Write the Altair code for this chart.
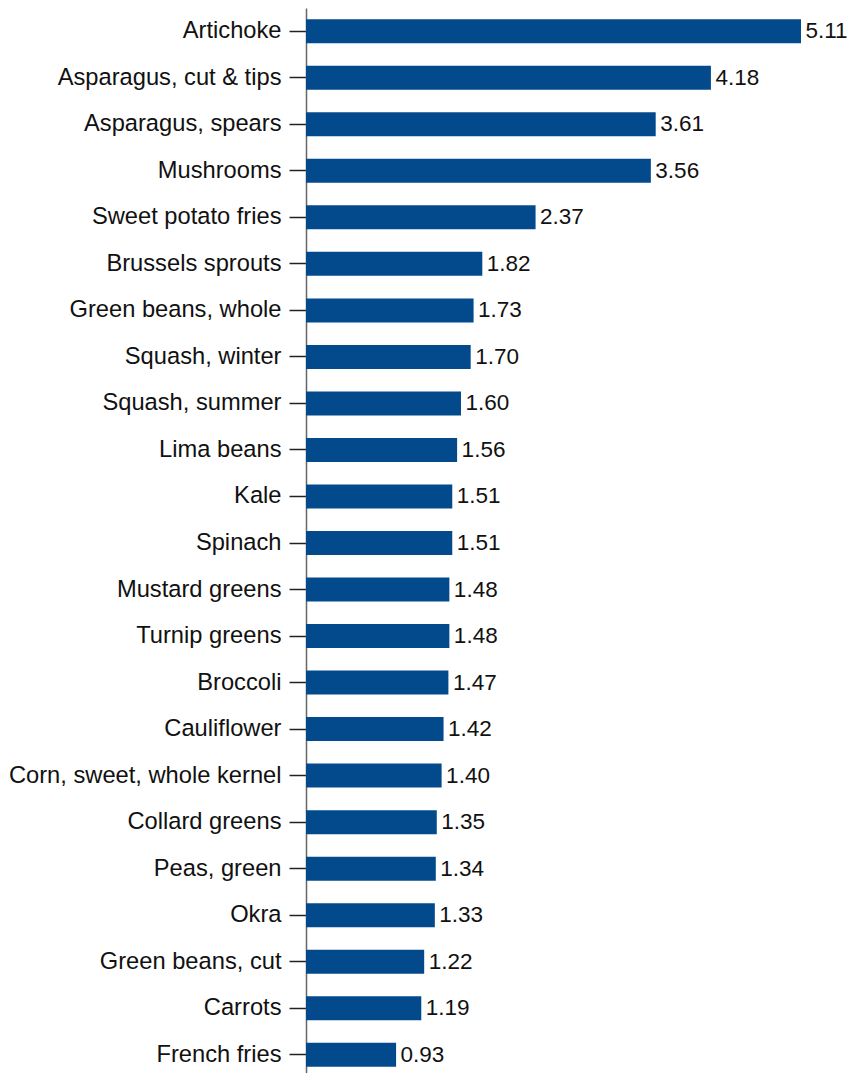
import altair as alt
import pandas as pd

categories = ["Artichoke", "Asparagus, cut & tips", "Asparagus, spears", "Mushrooms",
              "Sweet potato fries", "Brussels sprouts", "Green beans, whole",
              "Squash, winter", "Squash, summer", "Lima beans", "Kale", "Spinach",
              "Mustard greens", "Turnip greens", "Broccoli", "Cauliflower",
              "Corn, sweet, whole kernel", "Collard greens", "Peas, green", "Okra",
              "Green beans, cut", "Carrots", "French fries"]
values = [5.11, 4.18, 3.61, 3.56, 2.37, 1.82, 1.73, 1.70, 1.60, 1.56, 1.51, 1.51,
          1.48, 1.48, 1.47, 1.42, 1.40, 1.35, 1.34, 1.33, 1.22, 1.19, 0.93]

df = pd.DataFrame({"item": categories, "value": values})

FONT = "Liberation Sans"

y = alt.Y("item:N", sort=categories,
          scale=alt.Scale(paddingInner=0.484, paddingOuter=0.242),
          axis=alt.Axis(title=None, labelFont=FONT, labelFontSize=23.7,
                        labelColor="#111", tickSize=17, tickColor="#222",
                        tickWidth=1.5, labelPadding=8, domainColor="#666",
                        domainWidth=1.5, grid=False, labelLimit=400))
x = alt.X("value:Q", scale=alt.Scale(domain=[0, 5.11], nice=False, zero=True),
          axis=None)

bars = alt.Chart(df).mark_bar(color="#024a8c").encode(x=x, y=y)
labels = alt.Chart(df).mark_text(align="left", baseline="middle", dx=4.5,
                                 font=FONT, fontSize=22.5, color="#111").encode(
    x=x, y=y, text=alt.Text("value:Q", format=".2f"))

chart = (bars + labels).properties(
    width=495, height=1070, background="white",
    autosize=alt.AutoSizeParams(type="none"),
    padding={"left": 298, "top": 0, "right": 49, "bottom": 0},
).configure_view(strokeWidth=0, stroke="transparent")

chart.save("out.html", embed_options={"renderer": "svg", "actions": False})
